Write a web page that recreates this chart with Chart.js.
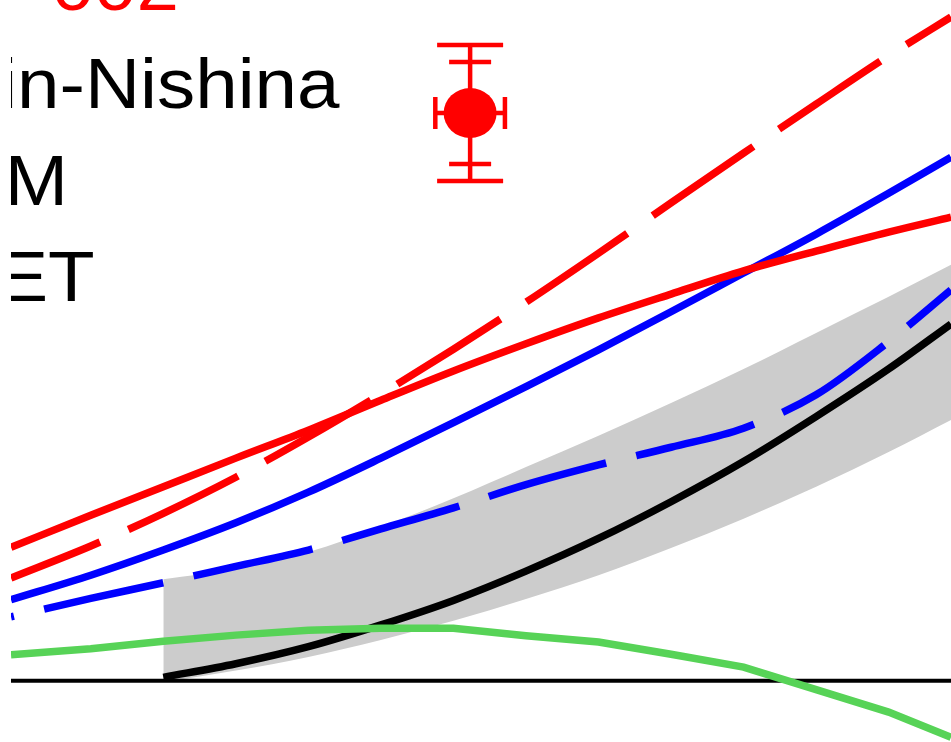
<!DOCTYPE html>
<html>
<head>
<meta charset="utf-8">
<script src="https://cdn.jsdelivr.net/npm/chart.js@4.4.1/dist/chart.umd.min.js"></script>
<style>
  html, body { margin: 0; padding: 0; background: #ffffff; }
  #wrap { width: 951px; height: 742px; position: relative; }
</style>
</head>
<body>
<div id="wrap"><canvas id="chart"></canvas></div>
<script>
// photon energy grid (MeV) shared by the full-range curves
const energies = [99, 110, 120, 130, 140, 150, 160, 170, 180, 190, 200, 210, 220, 228.6];
// grid for the curves that start at threshold
const thresholdEnergies = [120, 130, 140, 150, 160, 170, 180, 190, 200, 210, 220, 228.6];

const redSolid   = [19.6, 24.3, 28.5, 32.7, 36.8, 41.2, 45.5, 49.5, 53.3, 56.8, 60.2, 63.1, 65.9, 68.1];
const redDashed  = [15.1, 19.8, 24.6, 29.9, 35.8, 42.1, 48.7, 55.6, 62.8, 70.2, 77.5, 84.7, 91.8, 97.5];
const blueSolid  = [11.9, 15.5, 19.2, 23.2, 27.7, 32.7, 37.9, 43.2, 48.6, 54.2, 59.9, 65.6, 71.6, 76.9];
const blueDashed = [9.4, 12.1, 14.4, 16.8, 19.2, 22.3, 25.4, 28.8, 31.7, 34.3, 37.1, 42.0, 49.8, 57.4];
const greenCurve = [3.8, 4.7, 5.8, 6.7, 7.4, 7.7, 7.7, 6.6, 5.7, 3.9, 2.0, -1.3, -4.6, -8.3];

const blackCurve = [0.5, 2.5, 5.0, 8.2, 11.8, 16.1, 20.9, 26.3, 32.2, 38.8, 45.8, 52.4];
const bandUpper  = [14.9, 16.4, 18.9, 22.6, 26.8, 31.4, 36.0, 40.8, 45.8, 51.1, 56.4, 61.1];
const bandLower  = [-0.2, 1.5, 3.5, 6.0, 8.8, 12.0, 15.5, 19.5, 23.8, 28.5, 33.6, 38.3];

const zeroLineX = [99, 228.6];
const zeroLineY = [0, 0];

// measured point: energy, value, energy error, statistical and total errors
const pointX = [162.3];
const pointY = [83.4];
const pointXErr = [4.8];
const pointYErrStat = [7.5];
const pointYErrTot = [10.0];

const legendLabels = ['Klein-Nishina', 'CQM', 'χET'];
const pointLabel = 'MAMI – 002';

const toXY = (xs, ys) => xs.map((x, i) => ({ x: x, y: ys[i] }));

const errorPointPlugin = {
  id: 'errorPoint',
  afterDatasetsDraw(chart) {
    const { ctx, scales: { x, y } } = chart;
    ctx.save();
    ctx.strokeStyle = '#ff0000';
    ctx.fillStyle = '#ff0000';
    ctx.lineWidth = 4.5;
    ctx.lineCap = 'butt';
    for (let i = 0; i < pointX.length; i++) {
      const cx = x.getPixelForValue(pointX[i]);
      const cy = y.getPixelForValue(pointY[i]);
      const xl = x.getPixelForValue(pointX[i] - pointXErr[i]);
      const xr = x.getPixelForValue(pointX[i] + pointXErr[i]);
      const ysT = y.getPixelForValue(pointY[i] + pointYErrStat[i]);
      const ysB = y.getPixelForValue(pointY[i] - pointYErrStat[i]);
      const ytT = y.getPixelForValue(pointY[i] + pointYErrTot[i]);
      const ytB = y.getPixelForValue(pointY[i] - pointYErrTot[i]);
      ctx.beginPath();
      ctx.moveTo(cx, ytT); ctx.lineTo(cx, ytB);
      ctx.moveTo(xl, cy); ctx.lineTo(xr, cy);
      // total error caps
      ctx.moveTo(cx - 33, ytT); ctx.lineTo(cx + 33, ytT);
      ctx.moveTo(cx - 33, ytB); ctx.lineTo(cx + 33, ytB);
      // statistical error caps
      ctx.moveTo(cx - 21, ysT); ctx.lineTo(cx + 21, ysT);
      ctx.moveTo(cx - 21, ysB); ctx.lineTo(cx + 21, ysB);
      // energy error caps
      ctx.moveTo(xl, cy - 16); ctx.lineTo(xl, cy + 16);
      ctx.moveTo(xr, cy - 16); ctx.lineTo(xr, cy + 16);
      ctx.stroke();
      ctx.beginPath();
      ctx.ellipse(cx, cy, 26.5, 25, 0, 0, Math.PI * 2);
      ctx.fill();
    }
    ctx.restore();
  }
};

const labelPlugin = {
  id: 'labels',
  afterDraw(chart) {
    const { ctx, chartArea } = chart;
    const stretch = 1.075;
    const entries = [
      { text: pointLabel, right: 179, base: 10, color: '#ff0000' },
      { text: legendLabels[0], right: 339.5, base: 108, color: '#000000' },
      { text: legendLabels[1], right: 68, base: 205, color: '#000000' },
      { text: legendLabels[2], right: 94.7, base: 301, color: '#000000' }
    ];
    ctx.save();
    ctx.beginPath();
    ctx.rect(chartArea.left, 0, chart.width - chartArea.left, chart.height);
    ctx.clip();
    ctx.font = "71px 'Liberation Sans', Arial, Helvetica, sans-serif";
    ctx.textAlign = 'right';
    ctx.textBaseline = 'alphabetic';
    for (const e of entries) {
      ctx.save();
      ctx.translate(e.right, e.base);
      ctx.scale(stretch, 1);
      ctx.fillStyle = e.color;
      ctx.fillText(e.text, 0, 0);
      ctx.restore();
    }
    ctx.restore();
  }
};

const lineStyle = { pointRadius: 0, borderWidth: 7.5, fill: false, cubicInterpolationMode: 'monotone' };

new Chart(document.getElementById('chart'), {
  type: 'line',
  data: {
    datasets: [
      Object.assign({ label: 'redSolid', data: toXY(energies, redSolid), borderColor: '#ff0000' }, lineStyle),
      Object.assign({ label: 'redDashed', data: toXY(energies, redDashed), borderColor: '#ff0000',
        borderDash: [122, 31], borderDashOffset: 26 }, lineStyle),
      Object.assign({ label: 'blueSolid', data: toXY(energies, blueSolid), borderColor: '#0000ff' }, lineStyle),
      Object.assign({ label: 'blueDashed', data: toXY(energies, blueDashed), borderColor: '#0000ff',
        borderDash: [122, 31], borderDashOffset: 119 }, lineStyle),
      Object.assign({}, lineStyle, { label: 'green', data: toXY(energies, greenCurve), borderColor: '#57d357',
        cubicInterpolationMode: 'default', tension: 0 }),
      Object.assign({ label: 'black', data: toXY(thresholdEnergies, blackCurve), borderColor: '#000000' }, lineStyle),
      { label: 'zero', data: toXY(zeroLineX, zeroLineY), borderColor: '#000000', borderWidth: 4,
        pointRadius: 0, fill: false, tension: 0 },
      { label: 'bandUpper', data: toXY(thresholdEnergies, bandUpper), borderWidth: 0, borderColor: 'rgba(0,0,0,0)',
        backgroundColor: '#cccccc', pointRadius: 0, fill: '+1', cubicInterpolationMode: 'monotone' },
      { label: 'bandLower', data: toXY(thresholdEnergies, bandLower), borderWidth: 0, borderColor: 'rgba(0,0,0,0)',
        pointRadius: 0, fill: false, cubicInterpolationMode: 'monotone' }
    ]
  },
  options: {
    responsive: true,
    maintainAspectRatio: false,
    animation: false,
    layout: { padding: { left: 11, right: 0, top: 0, bottom: 0 } },
    plugins: { legend: { display: false }, tooltip: { enabled: false } },
    scales: {
      x: { type: 'linear', min: 99, max: 228.6, display: false },
      y: { type: 'linear', min: -9, max: 100, display: false }
    }
  },
  plugins: [errorPointPlugin, labelPlugin]
});
</script>
</body>
</html>
